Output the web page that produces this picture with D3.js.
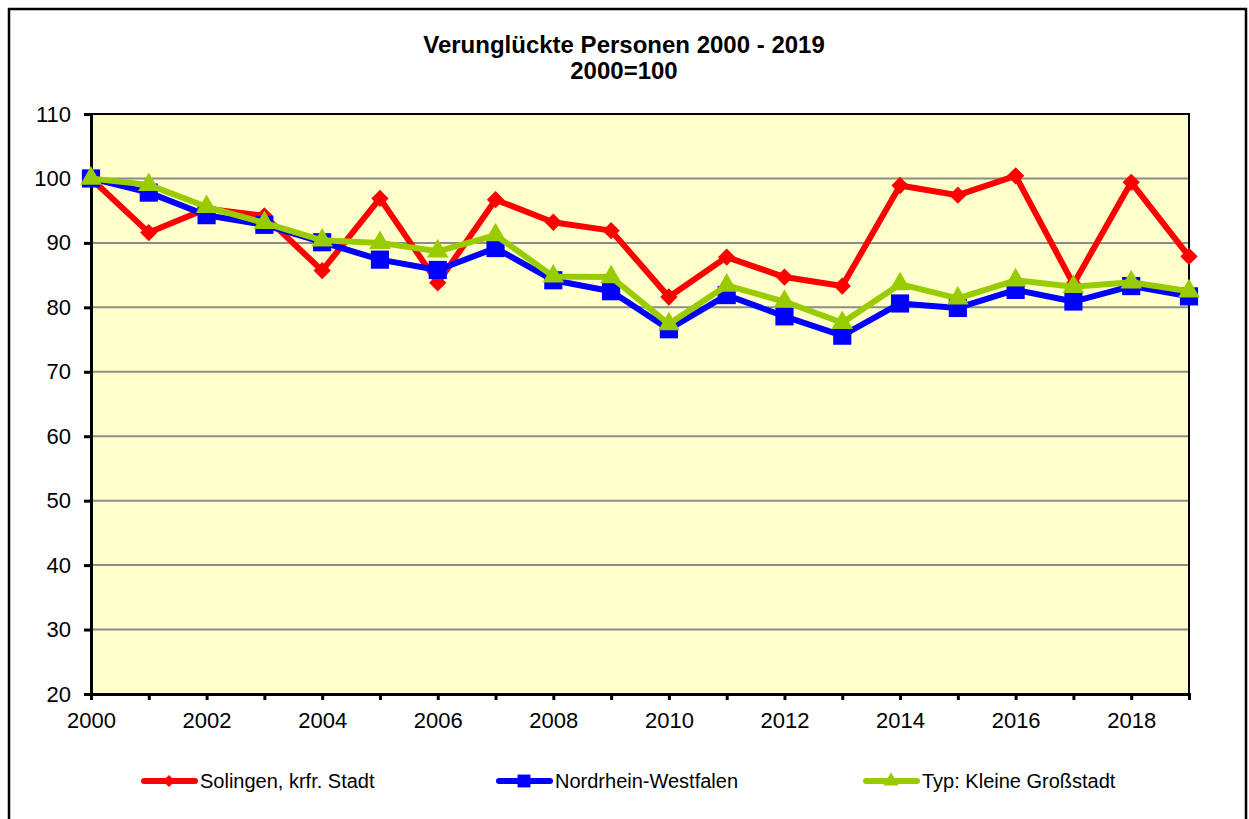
<!DOCTYPE html>
<html>
<head>
<meta charset="utf-8">
<script src="https://cdn.jsdelivr.net/npm/d3@7"></script>
<style>
  body { margin: 0; background: #fff; }
  svg { font-family: "Liberation Sans", Arial, sans-serif; }
</style>
</head>
<body>
<svg id="chart" width="1249" height="819"></svg>
<script>
const years = d3.range(2000, 2020);
const solingen = [100, 91.6, 95.3, 94.2, 85.7, 96.9, 83.8, 96.7, 93.2, 91.9, 81.6, 87.8, 84.7, 83.3, 98.9, 97.4, 100.4, 83.6, 99.4, 87.9];
const nrw = [100, 97.8, 94.3, 92.8, 90.1, 87.4, 85.8, 89.2, 84.2, 82.5, 76.6, 81.9, 78.6, 75.6, 80.6, 79.9, 82.7, 80.9, 83.3, 81.7];
const typ = [100, 99.0, 95.6, 93.1, 90.4, 90.0, 88.7, 91.2, 84.8, 84.7, 77.4, 83.4, 80.9, 77.6, 83.6, 81.4, 84.2, 83.2, 83.9, 82.5];
const yTicks = d3.range(20, 111, 10);
const xLabels = d3.range(2000, 2019, 2);

// diamond = square turned by 45 degrees
const series = [
  { name: "Solingen, krfr. Stadt", values: solingen, color: "#ff0000", symbol: d3.symbolSquare, rotate: 45, size: 150, legendX: 142 },
  { name: "Nordrhein-Westfalen", values: nrw, color: "#0000ff", symbol: d3.symbolSquare, rotate: 0, size: 330, legendX: 497 },
  { name: "Typ: Kleine Großstadt", values: typ, color: "#99cc00", symbol: d3.symbolTriangle, rotate: 0, size: 200, legendX: 864 }
];

const svg = d3.select("#chart");
const plotLeft = 91, plotRight = 1189, plotTop = 114, plotBottom = 694;

const x = d3.scaleLinear().domain([2000, 2019]).range([plotLeft, plotRight]);
const y = d3.scaleLinear().domain([20, 110]).range([plotBottom, plotTop]);

// outer frame
svg.append("rect")
  .attr("x", 9).attr("y", 9).attr("width", 1237).attr("height", 830)
  .attr("fill", "none").attr("stroke", "#000").attr("stroke-width", 2.5);

// title
svg.append("text")
  .attr("x", 624).attr("y", 53)
  .attr("text-anchor", "middle")
  .attr("font-size", 24).attr("font-weight", "bold")
  .text("Verunglückte Personen 2000 - 2019");
svg.append("text")
  .attr("x", 624).attr("y", 79)
  .attr("text-anchor", "middle")
  .attr("font-size", 24).attr("font-weight", "bold")
  .text("2000=100");

// plot area
svg.append("rect")
  .attr("x", plotLeft).attr("y", plotTop)
  .attr("width", plotRight - plotLeft).attr("height", plotBottom - plotTop)
  .attr("fill", "#ffffcc");

// grid
svg.append("g")
  .selectAll("line")
  .data(yTicks.filter(d => d > 20 && d < 110))
  .join("line")
  .attr("x1", plotLeft).attr("x2", plotRight)
  .attr("y1", d => y(d)).attr("y2", d => y(d))
  .attr("stroke", "#8c8c8c").attr("stroke-width", 2);

svg.append("rect")
  .attr("x", plotLeft).attr("y", plotTop)
  .attr("width", plotRight - plotLeft).attr("height", plotBottom - plotTop)
  .attr("fill", "none").attr("stroke", "#000").attr("stroke-width", 2);

// axes
const yAxis = svg.append("g")
  .attr("transform", `translate(${plotLeft},0)`)
  .call(d3.axisLeft(y).tickValues(yTicks).tickSize(7).tickPadding(13));
yAxis.select(".domain").attr("stroke-width", 3);
yAxis.selectAll(".tick line").attr("stroke-width", 3);
yAxis.selectAll("text").attr("font-size", 22).attr("fill", "#000").attr("font-family", "Liberation Sans, Arial, sans-serif");

const xAxis = svg.append("g")
  .attr("transform", `translate(0,${plotBottom})`)
  .call(d3.axisBottom(x).tickValues(years).tickSize(6).tickPadding(12)
    .tickFormat(d => xLabels.includes(d) ? d : ""));
xAxis.select(".domain").attr("stroke-width", 3);
xAxis.selectAll(".tick line").attr("stroke-width", 3);
xAxis.selectAll("text").attr("font-size", 22).attr("fill", "#000").attr("font-family", "Liberation Sans, Arial, sans-serif");

// lines and markers
const line = d3.line().x((d, i) => x(years[i])).y(d => y(d));

series.forEach(s => {
  svg.append("path")
    .datum(s.values)
    .attr("d", line)
    .attr("fill", "none")
    .attr("stroke", s.color)
    .attr("stroke-width", 6)
    .attr("stroke-linejoin", "round");
  svg.append("g")
    .selectAll("path")
    .data(s.values)
    .join("path")
    .attr("transform", (d, i) => `translate(${x(years[i])},${y(d)}) rotate(${s.rotate})`)
    .attr("d", d3.symbol().type(s.symbol).size(s.size))
    .attr("fill", s.color);
});

// legend
const legend = svg.append("g");
series.forEach(s => {
  const g = legend.append("g").attr("transform", `translate(${s.legendX},781)`);
  g.append("line")
    .attr("x1", 2).attr("x2", 53)
    .attr("stroke", s.color).attr("stroke-width", 6)
    .attr("stroke-linecap", "round");
  g.append("path")
    .attr("transform", `translate(27,0) rotate(${s.rotate})`)
    .attr("d", d3.symbol().type(s.symbol).size(s.size * 0.5))
    .attr("fill", s.color);
  g.append("text")
    .attr("x", 58).attr("y", 7)
    .attr("font-size", 20)
    .text(s.name);
});
</script>
</body>
</html>
